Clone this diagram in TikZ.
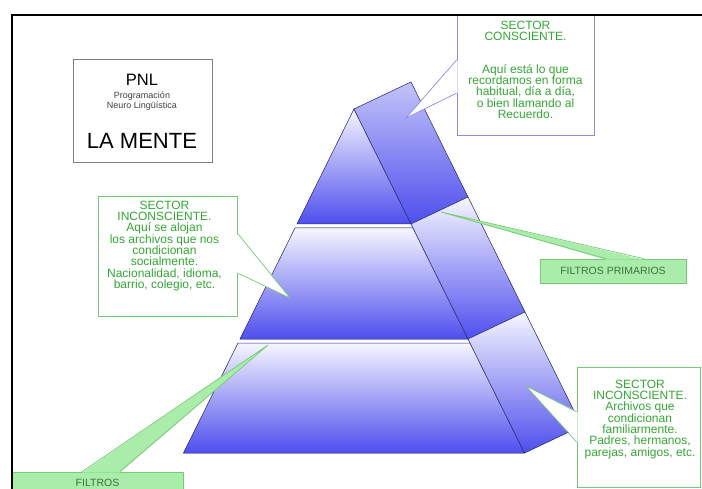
\documentclass[tikz,border=0pt]{standalone}
\usepackage{fontspec}
\setmainfont{Liberation Sans}
\usetikzlibrary{calc,positioning}

\definecolor{edgeblue}{RGB}{50,50,135}
\definecolor{tierlight}{RGB}{246,246,255}
\definecolor{tierdark}{RGB}{78,78,238}
\definecolor{sidelight}{RGB}{195,195,250}
\definecolor{noteblue}{RGB}{140,140,225}
\definecolor{notegreen}{RGB}{120,200,120}
\definecolor{textgreen}{RGB}{52,168,52}
\definecolor{filtergreen}{RGB}{170,236,170}
\definecolor{filtertext}{RGB}{60,115,60}

\newcommand\notefont{\fontsize{12}{11.3}\selectfont}

\begin{document}
\begin{tikzpicture}[x=1pt, y=-1pt,
	tier/.style={draw=edgeblue, line width=0.5pt, top color=tierlight, bottom color=tierdark},
	bluenote/.style={draw=noteblue, fill=white, line width=0.7pt, inner sep=0pt},
	greennote/.style={draw=notegreen, fill=white, line width=0.7pt, inner sep=0pt},
	filterbox/.style={draw=notegreen, fill=filtergreen, line width=0.7pt, inner sep=0pt, text=filtertext, font=\fontsize{10.5}{11}\selectfont},
	notetext/.style={text=textgreen, font=\notefont, align=center, inner sep=0pt}]
	\useasboundingbox (0,0) rectangle (702,489);
	\clip (0,0) rectangle (702,489);

	% front face of the pyramid
	\coordinate (T1) at (354,109);
	\coordinate (L1) at (297,224);
	\coordinate (R1) at (411,224);
	\coordinate (L2a) at (295,228);
	\coordinate (R2a) at (413,228);
	\coordinate (L2) at (240,339);
	\coordinate (R2) at (468,339);
	\coordinate (L3a) at (238,343);
	\coordinate (R3a) at (470,343);
	\coordinate (L3) at (183.5,453);
	\coordinate (R3) at (524.5,453);
	% back edge
	\coordinate (B0) at (411,82);
	\coordinate (B1) at (468,197);
	\coordinate (B2) at (525,312);
	\coordinate (B3) at (581.5,426);

	\filldraw [tier] (T1) -- (R1) -- (L1) -- cycle;
	\filldraw [tier] (L2a) -- (R2a) -- (R2) -- (L2) -- cycle;
	\filldraw [tier] (L3a) -- (R3a) -- (R3) -- (L3) -- cycle;
	\filldraw [tier, top color=sidelight] (T1) -- (B0) -- (B1) -- (R1) -- cycle;
	\filldraw [tier] (R1) -- (B1) -- (B2) -- (R2) -- cycle;
	\filldraw [tier] (R2) -- (B2) -- (B3) -- (R3) -- cycle;

	% title box
	\node [draw=gray, line width=0.8pt, minimum width=139pt, minimum height=103pt] (mind) at (142.5,110.5) {};
	\node [font=\fontsize{16.5}{16}\selectfont, inner sep=0pt] (pnl) at (142,80) {PNL};
	\node [font=\fontsize{9}{9}\selectfont, text=black!75, inner sep=0pt] (prog) at (142,96) {Programación};
	\node [font=\fontsize{9}{9}\selectfont, text=black!75, inner sep=0pt] (neuro) at (142,106.5) {Neuro Lingüística};
	\node [font=\fontsize{22}{22}\selectfont, inner sep=0pt] (mente) at (142,141) {LA MENTE};

	% sector consciente
	\node [bluenote, minimum width=137pt, minimum height=120pt] (consc) at (525.5,75) {};
	\coordinate (conscTip) at (406,118);
	\coordinate (conscA) at ($(consc.north west)!0.375!(consc.south west)$);
	\coordinate (conscB) at ($(consc.north west)!0.65!(consc.south west)$);
	\fill [white] ($(conscA)+(1,0)$) -- (conscTip) -- ($(conscB)+(1,0)$) -- cycle;
	\draw [noteblue, line width=0.7pt] (conscA) -- (conscTip) -- (conscB);
	\node [notetext, below=6pt of consc.north] (conscText) {SECTOR\\CONSCIENTE.\\[21.4pt]Aquí está lo que\\recordamos en forma\\habitual, día a día,\\o bien llamando al\\Recuerdo.};

	% sector inconsciente, social
	\node [greennote, minimum width=139pt, minimum height=120pt] (socl) at (167.5,256) {};
	\coordinate (soclTip) at (290,298);
	\coordinate (soclA) at ($(socl.north east)!0.31!(socl.south east)$);
	\coordinate (soclB) at ($(socl.north east)!0.64!(socl.south east)$);
	\fill [white] ($(soclA)+(-1,0)$) -- (soclTip) -- ($(soclB)+(-1,0)$) -- cycle;
	\draw [notegreen, line width=0.7pt] (soclA) -- (soclTip) -- (soclB);
	\node [notetext, below=5pt of socl.north, xshift=-3pt] (soclText) {SECTOR\\INCONSCIENTE.\\Aquí se alojan\\los archivos que nos\\condicionan\\socialmente.\\Nacionalidad, idioma,\\barrio, colegio, etc.};

	% sector inconsciente, familiar
	\node [greennote, minimum width=123pt, minimum height=120pt] (famil) at (638.5,427) {};
	\coordinate (familTip) at (526,386);
	\coordinate (familA) at ($(famil.north west)!0.375!(famil.south west)$);
	\coordinate (familB) at ($(famil.north west)!0.625!(famil.south west)$);
	\fill [white] ($(familA)+(1,0)$) -- (familTip) -- ($(familB)+(1,0)$) -- cycle;
	\draw [notegreen, line width=0.7pt] (familA) -- (familTip) -- (familB);
	\node [notetext, below=13pt of famil.north, xshift=1.5pt] (familText) {SECTOR\\INCONSCIENTE.\\Archivos que\\condicionan\\familiarmente.\\Padres, hermanos,\\parejas, amigos, etc.};

	% filtros
	\node [filterbox, minimum width=146pt, minimum height=24pt] (prim) at (613,271) {FILTROS PRIMARIOS};
	\coordinate (primTip) at (441,212);
	\coordinate (primA) at ($(prim.north west)!0.45!(prim.north east)$);
	\coordinate (primB) at ($(prim.north west)!0.71!(prim.north east)$);
	\fill [filtergreen] ($(primA)+(0,1)$) -- (primTip) -- ($(primB)+(0,1)$) -- cycle;
	\draw [notegreen, line width=0.7pt] (primA) -- (primTip) -- (primB);

	\node [filterbox, minimum width=171pt, minimum height=22pt] (filt) at (97.5,483) {FILTROS};
	\coordinate (filtTip) at (268,345);
	\coordinate (filtA) at ($(filt.north west)!0.41!(filt.north east)$);
	\coordinate (filtB) at ($(filt.north west)!0.63!(filt.north east)$);
	\fill [filtergreen] ($(filtA)+(0,1)$) -- (filtTip) -- ($(filtB)+(0,1)$) -- cycle;
	\draw [notegreen, line width=0.7pt] (filtA) -- (filtTip) -- (filtB);

	% frame
	\coordinate (frameBot) at (12,489);
	\coordinate (frameCorner) at (12,15);
	\coordinate (frameRight) at (702,15);
	\draw [line width=2pt] (frameBot) -- (frameCorner) -- (frameRight);
\end{tikzpicture}
\end{document}
